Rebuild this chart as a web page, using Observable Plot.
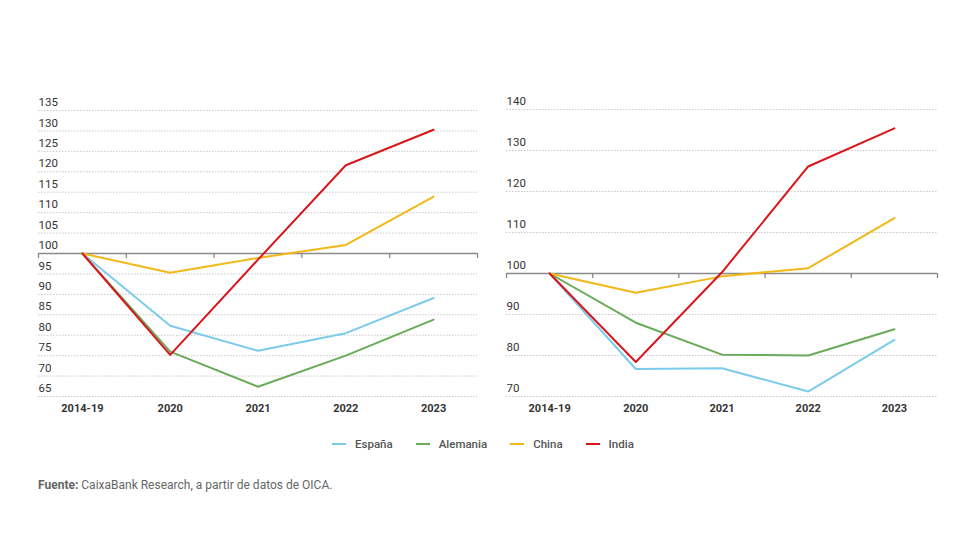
<!DOCTYPE html>
<html>
<head>
<meta charset="utf-8">
<script src="https://cdn.jsdelivr.net/npm/d3@7"></script>
<script src="https://cdn.jsdelivr.net/npm/@observablehq/plot@0.6"></script>
<style>
  html, body { margin: 0; padding: 0; background: #fff; }
  #page { position: relative; width: 980px; height: 560px; background: #fff; font-family: Roboto, "Liberation Sans", sans-serif; overflow: hidden; }
  .chart { position: absolute; top: 80px; }
  #legend { position: absolute; top: 437px; left: 332px; display: flex; align-items: center; font-family: Roboto, sans-serif; font-weight: 500; font-size: 11.5px; color: #555; }
  #legend .item { display: flex; align-items: center; margin-right: 23px; }
  #legend .sw { width: 14px; height: 2px; margin-right: 9px; }
  #caption { position: absolute; top: 478px; left: 38px; font-size: 12px; color: #666; font-family: Roboto, sans-serif; }
  #caption b { font-weight: 700; }
</style>
</head>
<body>
<div id="page">
  <div id="left" class="chart" style="left:0px"></div>
  <div id="right" class="chart" style="left:490px"></div>
  <div id="legend"></div>
  <div id="caption"><b>Fuente:</b> CaixaBank Research, a partir de datos de OICA.</div>
</div>
<script>
const categories = ["2014-19", "2020", "2021", "2022", "2023"];
const seriesNames = ["España", "Alemania", "China", "India"];
const seriesColors = ["#7ccbea", "#6aab5b", "#f2b818", "#d9161c"];

// Left panel
const leftEspana   = [100, 82.3, 76.2, 80.5, 89.1];
const leftAlemania = [100, 76.0, 67.4, 75.0, 83.8];
const leftChina    = [100, 95.3, 98.9, 102.1, 113.9];
const leftIndia    = [100, 75.2, 98.5, 121.6, 130.3];
const leftTicks = [65, 70, 75, 80, 85, 90, 95, 100, 105, 110, 115, 120, 125, 130, 135];

// Right panel
const rightEspana   = [100, 76.7, 76.9, 71.2, 83.8];
const rightAlemania = [100, 88.0, 80.2, 80.0, 86.4];
const rightChina    = [100, 95.3, 99.3, 101.3, 113.5];
const rightIndia    = [100, 78.4, 100.3, 126.1, 135.4];
const rightTicks = [70, 80, 90, 100, 110, 120, 130, 140];

const baseValue = 100;

function toRows(arrs) {
  const rows = [];
  arrs.forEach((arr, s) => arr.forEach((v, i) => rows.push({series: seriesNames[s], i, value: v})));
  return rows;
}

const boundaries = categories.map((_, i) => i - 0.5).concat([categories.length - 0.5]);

function makeChart(rows, ticks, opts) {
  return Plot.plot({
    width: opts.width,
    height: 340,
    marginLeft: opts.marginLeft,
    marginRight: opts.marginRight,
    marginTop: opts.marginTop,
    marginBottom: 24,
    style: {fontFamily: "Roboto, 'Liberation Sans', sans-serif", background: "transparent"},
    x: {type: "linear", domain: [-0.5, categories.length - 0.5]},
    y: {domain: [ticks[0], ticks[ticks.length - 1]]},
    color: {domain: seriesNames, range: seriesColors},
    marks: [
      Plot.gridY(ticks, {stroke: "#a0a0a0", strokeOpacity: 0.8, strokeWidth: 0.7, strokeDasharray: "1.5,1.5"}),
      Plot.axisY(ticks, {anchor: "left", tickSize: 0, tickPadding: 0, textAnchor: "start", dy: -8, fontSize: 11.5, fill: "#333", label: null}),
      Plot.axisX(categories.map((_, i) => i), {anchor: "bottom", tickSize: 0, tickPadding: 8, fontSize: 11, fontWeight: "bold", fill: "#333", tickFormat: (i) => categories[i], label: null}),
      Plot.ruleY([baseValue], {stroke: "#8a8a8a", strokeWidth: 1.3}),
      Plot.ruleX(boundaries, {x: (d) => d, y1: baseValue, y2: baseValue, insetBottom: -5, stroke: "#8a8a8a", strokeWidth: 1.3}),
      Plot.line(rows, {x: "i", y: "value", z: "series", stroke: "series", strokeWidth: 2, curve: "linear"})
    ]
  });
}

document.getElementById("left").appendChild(
  makeChart(toRows([leftEspana, leftAlemania, leftChina, leftIndia]), leftTicks,
    {width: 490, marginLeft: 38, marginRight: 13, marginTop: 30})
);
document.getElementById("right").appendChild(
  makeChart(toRows([rightEspana, rightAlemania, rightChina, rightIndia]), rightTicks,
    {width: 460, marginLeft: 16, marginRight: 13, marginTop: 29})
);

const legend = document.getElementById("legend");
seriesNames.forEach((name, k) => {
  const item = document.createElement("div");
  item.className = "item";
  const sw = document.createElement("span");
  sw.className = "sw";
  sw.style.background = seriesColors[k];
  const lab = document.createElement("span");
  lab.textContent = name;
  item.appendChild(sw);
  item.appendChild(lab);
  legend.appendChild(item);
});
</script>
</body>
</html>
